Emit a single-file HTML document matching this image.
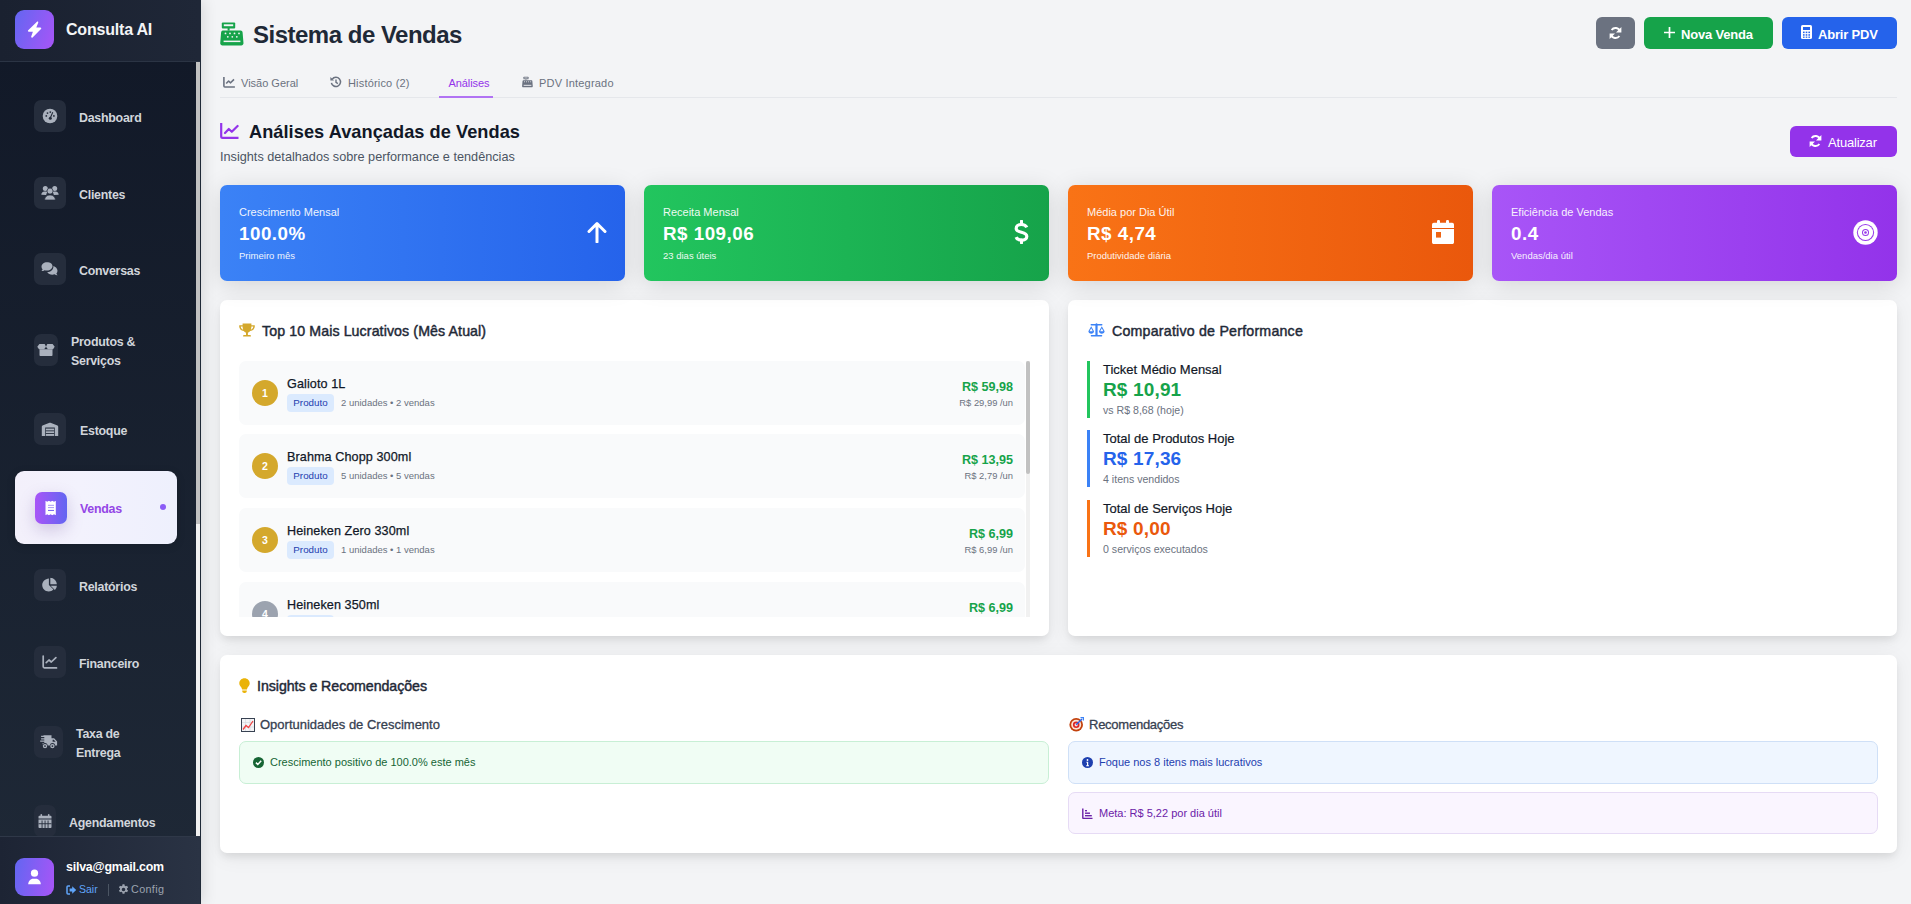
<!DOCTYPE html>
<html lang="pt-BR">
<head>
<meta charset="utf-8">
<title>Sistema de Vendas</title>
<style>
*{box-sizing:border-box;margin:0;padding:0}
html,body{width:1911px;height:904px;overflow:hidden}
body{font-family:"Liberation Sans",sans-serif;background:#f3f4f6;position:relative;color:#1f2937}
.abs{position:absolute}
svg{display:block}
/* sidebar */
#sb{position:absolute;left:0;top:0;width:200px;height:904px;box-shadow:3px 0 14px rgba(0,0,0,.12);background:linear-gradient(180deg,#111827 0%,#1f2937 100%)}
#sbh{position:absolute;left:0;top:0;width:200px;height:62px;background:linear-gradient(90deg,#1a2130,#1f2737);border-bottom:1px solid #2b3444}
#logo{position:absolute;left:15px;top:10px;width:39px;height:39px;border-radius:9px;background:linear-gradient(110deg,#6366f1,#a855f7)}
#brand{position:absolute;left:66px;top:21px;font-size:16px;font-weight:bold;color:#f3f4f6;letter-spacing:-0.2px;white-space:nowrap}
.nav{position:absolute;left:15px;width:162px;height:73px}
.nav .ib{position:absolute;top:20px;height:32px;width:32px;left:19px;border-radius:7px;background:#252d3c}
.nav .ib svg{position:absolute;left:50%;top:50%;transform:translate(-50%,-50%)}
.nav .lb{position:absolute;font-size:12.4px;font-weight:bold;color:#d1d5db;white-space:nowrap;line-height:19px;letter-spacing:-.25px;margin-top:2px}
#sbtrack{position:absolute;left:196px;top:62px;width:4px;height:774px;background:#f1f1f1}
#sbthumb{position:absolute;left:196px;top:62px;width:4px;height:462px;background:#c1c1c1}
#sbline{position:absolute;left:200px;top:0;width:1px;height:904px;background:#1f2937}
#user{position:absolute;left:0;top:836px;width:200px;height:68px;background:linear-gradient(90deg,#1d2434,#2a3344);border-top:1px solid #2f3848}
/* main */
.card{position:absolute;border-radius:7px;background:#fff;box-shadow:0 5px 8px -2px rgba(0,0,0,.1),0 4px 22px rgba(0,0,0,.06)}
.stat{position:absolute;top:185px;width:405px;height:96px;border-radius:7px;color:#fff;box-shadow:0 4px 24px rgba(0,0,0,.13)}
.stat .l1{position:absolute;left:19px;top:21px;font-size:11px;opacity:.92;white-space:nowrap}
.stat .l2{position:absolute;left:19px;top:38px;font-size:18.8px;font-weight:bold;white-space:nowrap}
.stat .l3{position:absolute;left:19px;top:65px;font-size:9.5px;opacity:.92;white-space:nowrap}
.stat svg{position:absolute}
.tab{top:77px;font-size:11px;color:#6b7280;white-space:nowrap;letter-spacing:0}
#main{position:absolute;left:0;top:0}
#act{background:linear-gradient(90deg,#f3f0fb 0%,#f3f2fd 40%,#eef0fd 100%);border-radius:9px;box-shadow:0 2px 8px rgba(0,0,0,.15)}
#act .ib{box-shadow:0 6px 16px rgba(120,90,160,.28)}
.ph{position:absolute;font-size:14.2px;font-weight:normal;color:#1f2937;white-space:nowrap;-webkit-text-stroke:.45px #1f2937;letter-spacing:.1px}
.li{position:absolute;left:239px;width:786px;height:64px;border-radius:7px;background:#f9fafb}
.rk{position:absolute;left:13px;top:19px;width:26px;height:26px;border-radius:50%;background:#d4a82c;color:#fff;font-size:10.5px;font-weight:bold;text-align:center;line-height:26px}
.nm{position:absolute;left:48px;top:16px;font-size:12.6px;color:#111827;-webkit-text-stroke:.25px #111827;letter-spacing:.1px;white-space:nowrap}
.bd{position:absolute;left:48px;top:33px;width:47px;height:18px;border-radius:4px;background:#dbeafe;color:#1e40af;font-size:9.8px;line-height:18px;text-align:center}
.mt{position:absolute;left:102px;top:36px;font-size:9.5px;color:#6b7280;white-space:nowrap}
.pr{position:absolute;right:12px;top:19px;font-size:12.6px;font-weight:bold;color:#16a34a;white-space:nowrap;text-align:right}
.up{position:absolute;right:12px;top:36px;font-size:9.4px;color:#6b7280;white-space:nowrap;text-align:right}
.cmp{position:absolute;left:1087px;width:300px;height:57px;border-left:3px solid}
.cmp .a{position:absolute;left:13px;top:1px;font-size:13px;color:#111827;-webkit-text-stroke:.2px #111827;white-space:nowrap}
.cmp .b{position:absolute;left:13px;top:18px;font-size:19px;font-weight:bold;white-space:nowrap;letter-spacing:.15px}
.cmp .c{position:absolute;left:13px;top:43px;font-size:10.6px;color:#6b7280;white-space:nowrap}
.ibox{position:absolute;height:42px;border-radius:7px;border:1px solid}
.ibox svg{position:absolute;left:13px;top:14.5px}
.ibox .t{position:absolute;left:30px;top:14px;font-size:11px;white-space:nowrap}

</style>
</head>
<body>
<!-- SIDEBAR -->
<div id="sb">
  <div id="sbh">
    <div id="logo"><svg class="abs" style="left:12px;top:11px" width="15" height="17" viewBox="0 0 15 17"><path d="M10.2.6 1.2 9.2c-.6.6-.2 1.5.6 1.5h4.1L4.2 15.5c-.3.9.7 1.5 1.4.9l8.4-8.3c.6-.6.2-1.5-.6-1.5H9.3l1.9-4.9c.3-.9-.4-1.6-1-1.1z" fill="#fff"/></svg></div>
    <div id="brand">Consulta AI</div>
  </div>
</div>
<div class="nav" style="top:80px"><div class="ib" style="width:32px"><svg width="16" height="16" viewBox="0 0 16 16"><circle cx="8" cy="8" r="7.3" fill="#aab1bd"/><circle cx="4.3" cy="7.9" r=".9" fill="#252d3c"/><circle cx="5.5" cy="5.1" r=".9" fill="#252d3c"/><circle cx="8.3" cy="4.1" r=".9" fill="#252d3c"/><circle cx="11.9" cy="7.9" r=".9" fill="#252d3c"/><path d="M10.6 4.6 8.6 9.3" stroke="#252d3c" stroke-width="1.1" stroke-linecap="round"/><circle cx="8.3" cy="10.3" r="1.5" fill="#252d3c"/></svg></div><div class="lb" style="left:64px;top:27px">Dashboard</div></div>
<div class="nav" style="top:157px"><div class="ib" style="width:32px"><svg width="18" height="15" viewBox="0 0 18 15"><circle cx="4.3" cy="3" r="2.5" fill="#aab1bd"/><circle cx="13.7" cy="3" r="2.5" fill="#aab1bd"/><path d="M0.3 9.3c0-2 1.3-3.4 3.3-3.4h1.8c.7 0 1.2.2 1.6.4-1.1.8-1.7 1.9-1.8 3.3z" fill="#aab1bd"/><path d="M17.7 9.3c0-2-1.3-3.4-3.3-3.4h-1.8c-.7 0-1.2.2-1.6.4 1.1.8 1.7 1.9 1.8 3.3z" fill="#aab1bd"/><circle cx="9" cy="5.6" r="3" fill="#aab1bd" stroke="#252d3c" stroke-width=".7"/><path d="M3.6 14.5C3.6 11.6 5.7 9.5 9 9.5s5.4 2.1 5.4 5z" fill="#aab1bd" stroke="#252d3c" stroke-width=".7"/></svg></div><div class="lb" style="left:64px;top:27px">Clientes</div></div>
<div class="nav" style="top:233px"><div class="ib" style="width:32px"><svg width="18" height="15" viewBox="0 0 18 15"><path d="M6 0.8C2.9 0.8 0.5 2.8 0.5 5.2c0 1 .4 1.9 1.1 2.6-.2.8-.7 1.4-1.2 1.8 1.1.1 2.3-.3 3.1-.9.8.3 1.6.4 2.5.4 3.1 0 5.5-2 5.5-4.5S9.1 0.8 6 0.8z" fill="#aab1bd"/><path d="M12.3 4.5c.1.3.1.5.1.8 0 3-2.8 5.2-6.2 5.4 1 1.5 2.9 2.5 5.1 2.5.8 0 1.6-.1 2.3-.4.8.6 1.9 1 3 .9-.5-.4-1-1-1.2-1.8.7-.7 1.1-1.6 1.1-2.6 0-2.3-1.9-4.2-4.2-4.8z" fill="#aab1bd"/></svg></div><div class="lb" style="left:64px;top:27px">Conversas</div></div>
<div class="nav" style="top:314px"><div class="ib" style="width:24px"><svg width="18" height="14" viewBox="0 0 18 14"><path d="M2.5 6.2h13V12c0 .6-.5 1.1-1.1 1.1H3.6c-.6 0-1.1-.5-1.1-1.1z" fill="#aab1bd"/><path d="M0.3 3.8 2.4 0.9h5.3L9 3.8 7.1 6.3H2z" fill="#aab1bd"/><path d="M17.7 3.8 15.6 0.9h-5.3L9 3.8l1.9 2.5H16z" fill="#aab1bd"/></svg></div><div class="lb" style="left:56px;top:17px">Produtos &amp;<br>Serviços</div></div>
<div class="nav" style="top:393px"><div class="ib" style="width:32px"><svg width="18" height="15" viewBox="0 0 18 15"><path d="M0.8 14.4V5.2c0-.5.3-.9.7-1.1L8.5 1.2c.3-.1.7-.1 1 0l7 2.9c.4.2.7.6.7 1.1v9.2h-3.4V6.1H4.2v8.3z" fill="#aab1bd"/><rect x="4.9" y="7.1" width="8.2" height="1.8" fill="#aab1bd"/><rect x="4.9" y="9.8" width="8.2" height="1.8" fill="#aab1bd"/><rect x="4.9" y="12.5" width="8.2" height="1.9" fill="#aab1bd"/></svg></div><div class="lb" style="left:65px;top:27px">Estoque</div></div>
<div class="nav" style="top:785px"><div class="ib" style="width:22px"><svg width="14" height="14" viewBox="0 0 14 14"><rect x="2.5" y="0" width="1.6" height="3" rx=".8" fill="#aab1bd"/><rect x="9.9" y="0" width="1.6" height="3" rx=".8" fill="#aab1bd"/><path d="M0.5 2.8c0-.6.5-1.1 1.1-1.1h10.8c.6 0 1.1.5 1.1 1.1v1.8H0.5z" fill="#aab1bd"/><path d="M0.5 5.4h13v7.5c0 .6-.5 1.1-1.1 1.1H1.6c-.6 0-1.1-.5-1.1-1.1z" fill="#aab1bd"/><g fill="#252d3c"><rect x="3.6" y="6.5" width=".9" height="7.5"/><rect x="6.6" y="6.5" width=".9" height="7.5"/><rect x="9.6" y="6.5" width=".9" height="7.5"/><rect x=".5" y="9.3" width="13" height=".9"/></g></svg></div><div class="lb" style="left:54px;top:27px">Agendamentos</div></div>
<div class="nav" style="top:549px"><div class="ib" style="width:32px"><svg width="16" height="15" viewBox="0 0 16 15"><path d="M6.9 0.9V7.5l4.6 4.6C10.3 13.3 8.6 14 6.7 14 3.1 14 .2 11.1.2 7.5.2 4.1 3.2 1.1 6.9.9z" fill="#aab1bd"/><path d="M8.3.3c3.5.2 6.3 3 6.5 6.5H8.3z" fill="#aab1bd"/><path d="M8.6 8.2h6.2c-.1 1.6-.8 3.1-1.9 4.2z" fill="#aab1bd"/></svg></div><div class="lb" style="left:64px;top:27px">Relatórios</div></div>
<div class="nav" style="top:626px"><div class="ib" style="width:32px"><svg width="16" height="14" viewBox="0 0 16 14"><path d="M1.2 1v10.6c0 .7.5 1.3 1.2 1.3H14.5" stroke="#aab1bd" stroke-width="1.7" fill="none" stroke-linecap="round"/><path d="M4.2 7.6 7 5l2.3 2 4.6-4.4" stroke="#aab1bd" stroke-width="1.7" fill="none" stroke-linecap="round" stroke-linejoin="round"/></svg></div><div class="lb" style="left:64px;top:27px">Financeiro</div></div>
<div class="nav" style="top:706px"><div class="ib" style="width:29px"><svg width="18" height="15" viewBox="0 0 18 15"><path d="M3.5 0.8h8v3h2.6l3 3.3v3.9h-2a2.6 2.6 0 0 0-5.2 0H7.6a2.6 2.6 0 0 0-5.2 0H2.6V8.5h1.7V7.3H0.2V6.1h4.1V4.9H1.1V3.7h3.2V2.5H1.1V1.3h2.4z" fill="#aab1bd"/><path d="M12.6 5.3h1.2l1.8 2h-3z" fill="#252d3c"/><circle cx="5" cy="11.6" r="2.2" fill="#aab1bd"/><circle cx="12.4" cy="11.6" r="2.2" fill="#aab1bd"/><circle cx="5" cy="11.6" r=".9" fill="#252d3c"/><circle cx="12.4" cy="11.6" r=".9" fill="#252d3c"/></svg></div><div class="lb" style="left:61px;top:17px">Taxa de<br>Entrega</div></div>
<div class="nav" id="act" style="top:471px"><div class="ib" style="left:20px;top:21px;background:linear-gradient(90deg,#a855f7,#6366f1)"><svg width="12" height="15" viewBox="0 0 12 15"><path d="M0.5 0.3 2.2 1.3 3.9.3 5.6 1.3 7.3.3 9 1.3 10.8.3V14.7L9 13.7 7.3 14.7 5.6 13.7 3.9 14.7 2.2 13.7.5 14.7z" fill="#fff"/><rect x="3" y="4.3" width="6" height="1" fill="#a99af5"/><rect x="3" y="6.6" width="6" height="1" fill="#a99af5"/><rect x="3" y="9.4" width="6" height="1.1" fill="#7c6cf0"/></svg></div><div class="lb" style="left:65px;top:27px;color:#9446e6">Vendas</div><div class="abs" style="left:145px;top:33px;width:6px;height:6px;border-radius:3px;background:#8b5cf6"></div></div>
<div id="user">
<div class="abs" style="left:15px;top:21px;width:39px;height:38px;border-radius:9px;background:linear-gradient(100deg,#6366f1,#a855f7)"><svg class="abs" style="left:12px;top:11px" width="15" height="16" viewBox="0 0 15 16"><circle cx="7.5" cy="4.2" r="3.6" fill="#fff"/><path d="M1.2 15.2c0-3 2.2-5.5 5-5.5h2.6c2.8 0 5 2.5 5 5.5z" fill="#fff"/></svg></div>
<div class="abs" style="left:66px;top:23px;font-size:12.4px;font-weight:bold;color:#fff;white-space:nowrap;letter-spacing:-.2px">silva@gmail.com</div>
<svg class="abs" style="left:66px;top:48px" width="11" height="10" viewBox="0 0 11 10"><path d="M4 1H2C1.4 1 1 1.4 1 2v6c0 .6.4 1 1 1h2" stroke="#60a5fa" stroke-width="1.5" fill="none"/><path d="M6.2 1.3 10.2 5 6.2 8.7V6.4H3.6V3.6h2.6z" fill="#60a5fa"/></svg>
<div class="abs" style="left:79px;top:46px;font-size:10.5px;color:#60a5fa;white-space:nowrap">Sair</div>
<div class="abs" style="left:108px;top:47px;width:1px;height:12px;background:#4b5563"></div>
<svg class="abs" style="left:118px;top:47px" width="11" height="11" viewBox="0 0 16 16"><path d="M9.4 0.5 9.8 2.6c.5.2 1 .4 1.4.8l2-.7 1.4 2.4-1.6 1.4c.1.5.1 1.1 0 1.6l1.6 1.4-1.4 2.4-2-.7c-.4.4-.9.6-1.4.8l-.4 2.1H6.6l-.4-2.1c-.5-.2-1-.4-1.4-.8l-2 .7L1.4 9.5 3 8.1c-.1-.5-.1-1.1 0-1.6L1.4 5.1 2.8 2.7l2 .7c.4-.4.9-.6 1.4-.8L6.6.5zM8 5.4A2.6 2.6 0 1 0 8 10.6 2.6 2.6 0 1 0 8 5.4z" fill="#9ca3af"/></svg>
<div class="abs" style="left:131px;top:46px;font-size:10.8px;color:#9ca3af;white-space:nowrap;letter-spacing:.35px">Config</div>
</div>
<div id="sbtrack"></div><div id="sbthumb"></div><div id="sbline"></div>

<!-- MAIN -->
<!-- header -->
<div id="main">
<svg class="abs" style="left:220px;top:22px" width="24" height="24" viewBox="0 0 24 24"><rect x="1.8" y="0.4" width="13.4" height="6" rx="1" fill="#16a34a"/><rect x="3.8" y="2.3" width="9.4" height="1.9" fill="#f3f4f6"/><rect x="7.6" y="6" width="2" height="2.6" fill="#16a34a"/><path d="M2.6 8.4h18c1.1 0 2 .9 2 2l.9 10.8c0 1.2-1 2.2-2.2 2.2H2.4c-1.2 0-2.2-1-2.2-2.2l.9-10.8c.1-1.1 1-2 1.5-2z" fill="#16a34a"/><g fill="#f3f4f6"><circle cx="5.5" cy="11.4" r=".9"/><circle cx="10" cy="11.4" r=".9"/><circle cx="14.5" cy="11.4" r=".9"/><circle cx="19" cy="11.4" r=".9"/><circle cx="7.8" cy="14.8" r=".9"/><circle cx="12.3" cy="14.8" r=".9"/><circle cx="16.8" cy="14.8" r=".9"/><rect x="3.6" y="18.6" width="16.8" height="1.5"/></g></svg>
<div class="abs" style="left:253px;top:21px;font-size:24px;font-weight:bold;color:#1f2937;letter-spacing:-.5px;white-space:nowrap">Sistema de Vendas</div>

<div class="abs btn" style="left:1596px;top:17px;width:39px;height:32px;border-radius:6px;background:#6b7280"><svg class="abs" style="left:13px;top:9px" width="13" height="14" viewBox="0 0 13 14"><path d="M11 5.2A4.8 4.8 0 0 0 2.6 4" stroke="#fff" stroke-width="2" fill="none"/><path d="M12.4 1v5.4H7z" fill="#fff"/><path d="M2 8.8A4.8 4.8 0 0 0 10.4 10" stroke="#fff" stroke-width="2" fill="none"/><path d="M.6 13V7.6H6z" fill="#fff"/></svg></div>
<div class="abs btn" style="left:1644px;top:17px;width:129px;height:32px;border-radius:6px;background:#16a34a"><svg class="abs" style="left:20px;top:10px" width="11" height="11" viewBox="0 0 11 11"><path d="M5.5 0v11M0 5.5h11" stroke="#fff" stroke-width="1.7"/></svg><div class="abs" style="left:37px;top:10px;font-size:13px;font-weight:bold;color:#fff;letter-spacing:-.2px;white-space:nowrap">Nova Venda</div></div>
<div class="abs btn" style="left:1782px;top:17px;width:115px;height:32px;border-radius:6px;background:#2563eb"><svg class="abs" style="left:19px;top:8px" width="11" height="14" viewBox="0 0 11 14"><rect x="0" y="0" width="11" height="14" rx="1.6" fill="#fff"/><rect x="2" y="2" width="7" height="3" fill="#2563eb"/><g fill="#2563eb"><rect x="2" y="6.6" width="1.6" height="1.5"/><rect x="4.7" y="6.6" width="1.6" height="1.5"/><rect x="7.4" y="6.6" width="1.6" height="1.5"/><rect x="2" y="9.2" width="1.6" height="1.5"/><rect x="4.7" y="9.2" width="1.6" height="1.5"/><rect x="7.4" y="9.2" width="1.6" height="1.5"/><rect x="2" y="11.6" width="1.6" height="1.2"/><rect x="4.7" y="11.6" width="1.6" height="1.2"/><rect x="7.4" y="11.6" width="1.6" height="1.2"/></g></svg><div class="abs" style="left:36px;top:10px;font-size:13px;font-weight:bold;color:#fff;letter-spacing:-.2px;white-space:nowrap">Abrir PDV</div></div>

<!-- tabs -->
<div class="abs" style="left:220px;top:97px;width:1677px;height:1px;background:#e5e7eb"></div>
<svg class="abs" style="left:223px;top:77px" width="12" height="11" viewBox="0 0 12 11"><path d="M.9 0v9c0 .6.4 1 1 1h10" stroke="#6b7280" stroke-width="1.6" fill="none"/><path d="M3.2 6.5 5.6 4l2 1.8L11 2.4" stroke="#6b7280" stroke-width="1.6" fill="none" stroke-linejoin="round"/></svg>
<div class="abs tab" style="left:241px;letter-spacing:0">Visão Geral</div>
<svg class="abs" style="left:330px;top:76px" width="12" height="12" viewBox="0 0 12 12"><path d="M2.2 3.2A4.6 4.6 0 1 1 1.4 6.8" stroke="#6b7280" stroke-width="1.5" fill="none"/><path d="M.4 1v3.6H4z" fill="#6b7280"/><path d="M6 3.4V6.3l1.9 1.3" stroke="#6b7280" stroke-width="1.4" fill="none"/></svg>
<div class="abs tab" style="left:348px;letter-spacing:.18px">Histórico (2)</div>
<div class="abs tab" style="left:448.5px;color:#9333ea;letter-spacing:-.07px">Análises</div>
<div class="abs" style="left:439px;top:96px;width:54px;height:2px;background:#b173f3"></div>
<svg class="abs" style="left:522px;top:76px" width="11" height="12" viewBox="0 0 24 24"><rect x="3.2" y="0.6" width="11" height="5.6" rx="1" fill="#6b7280"/><rect x="5" y="2.4" width="7.4" height="1.6" fill="#f3f4f6"/><rect x="7.6" y="6" width="2" height="2.6" fill="#6b7280"/><path d="M2.6 8.4h18c1.1 0 2 .9 2 2l.9 10.8c0 1.2-1 2.2-2.2 2.2H2.4c-1.2 0-2.2-1-2.2-2.2l.9-10.8c.1-1.1 1-2 1.5-2z" fill="#6b7280"/><g fill="#f3f4f6"><circle cx="5.5" cy="11.4" r="1.1"/><circle cx="10" cy="11.4" r="1.1"/><circle cx="14.5" cy="11.4" r="1.1"/><circle cx="19" cy="11.4" r="1.1"/><rect x="3.6" y="18.2" width="16.8" height="2"/></g></svg>
<div class="abs tab" style="left:539px;letter-spacing:.2px">PDV Integrado</div>

<!-- section header -->
<svg class="abs" style="left:220px;top:123px" width="19" height="16" viewBox="0 0 19 16"><path d="M1.2 0v13.4c0 .8.6 1.4 1.4 1.4H18.5" stroke="#9333ea" stroke-width="2.2" fill="none"/><path d="M5 10 8.8 6l3 2.8L17.6 3" stroke="#9333ea" stroke-width="2.2" fill="none" stroke-linejoin="round" stroke-linecap="round"/></svg>
<div class="abs" style="left:249px;top:122px;font-size:18.2px;letter-spacing:.05px;font-weight:bold;color:#111827;white-space:nowrap">Análises Avançadas de Vendas</div>
<div class="abs" style="left:220px;top:150px;font-size:12.7px;color:#4b5563;white-space:nowrap">Insights detalhados sobre performance e tendências</div>
<div class="abs btn" style="left:1790px;top:126px;width:107px;height:31px;border-radius:6px;background:#9333ea"><svg class="abs" style="left:19px;top:8px" width="13" height="14" viewBox="0 0 13 14"><path d="M11 5.2A4.8 4.8 0 0 0 2.6 4" stroke="#fff" stroke-width="2" fill="none"/><path d="M12.4 1v5.4H7z" fill="#fff"/><path d="M2 8.8A4.8 4.8 0 0 0 10.4 10" stroke="#fff" stroke-width="2" fill="none"/><path d="M.6 13V7.6H6z" fill="#fff"/></svg><div class="abs" style="left:38px;top:9px;font-size:13px;color:#fff;letter-spacing:-.2px;white-space:nowrap">Atualizar</div></div>


<!-- top10 panel -->
<div class="card" style="left:220px;top:300px;width:829px;height:336px"></div>
<svg class="abs" style="left:239px;top:323px" width="16" height="14" viewBox="0 0 16 14"><path d="M3.6 0.6h8.8v1.6h3c.3 0 .5.2.5.5 0 3-2 5.1-4.7 5.4-.6.9-1.4 1.5-2.3 1.7v2.3h2.3c.4 0 .7.3.7.7v.8H4.1v-.8c0-.4.3-.7.7-.7H7V9.8C6.1 9.6 5.3 9 4.7 8.1 2 7.8.1 5.7.1 2.7c0-.3.2-.5.5-.5h3zM1.7 3.6c.2 1.7 1.2 2.8 2.5 3.1-.4-.9-.6-2-.6-3.1zM14.3 3.6h-1.9c0 1.1-.2 2.2-.6 3.1 1.3-.3 2.3-1.4 2.5-3.1z" fill="#d4a82c"/></svg>
<div class="ph" style="left:262px;top:323px">Top 10 Mais Lucrativos (Mês Atual)</div>
<div class="abs" style="left:239px;top:361px;width:791px;height:256px;overflow:hidden">
<div class="abs" style="left:0;top:0"><div class="li" style="left:0;top:0px"><div class="rk" style="background:#d4a82c">1</div><div class="nm">Galioto 1L</div><div class="bd">Produto</div><div class="mt">2 unidades • 2 vendas</div><div class="pr">R$ 59,98</div><div class="up">R$ 29,99 /un</div></div><div class="li" style="left:0;top:73px"><div class="rk" style="background:#d4a82c">2</div><div class="nm">Brahma Chopp 300ml</div><div class="bd">Produto</div><div class="mt">5 unidades • 5 vendas</div><div class="pr">R$ 13,95</div><div class="up">R$ 2,79 /un</div></div><div class="li" style="left:0;top:147px"><div class="rk" style="background:#d4a82c">3</div><div class="nm">Heineken Zero 330ml</div><div class="bd">Produto</div><div class="mt">1 unidades • 1 vendas</div><div class="pr">R$ 6,99</div><div class="up">R$ 6,99 /un</div></div><div class="li" style="left:0;top:221px"><div class="rk" style="background:#9ca3af">4</div><div class="nm">Heineken 350ml</div><div class="bd">Produto</div><div class="mt">1 unidades • 1 vendas</div><div class="pr">R$ 6,99</div><div class="up">R$ 6,99 /un</div></div></div>
<div class="abs" style="left:787px;top:0;width:4px;height:256px;background:#f1f1f1"></div>
<div class="abs" style="left:787px;top:0;width:4px;height:113px;border-radius:2px;background:#c1c1c1"></div>
</div>

<!-- comparativo panel -->
<div class="card" style="left:1068px;top:300px;width:829px;height:336px"></div>
<svg class="abs" style="left:1088px;top:323px" width="17" height="14" viewBox="0 0 17 14"><path d="M8.5 0.3c.5 0 .9.3 1 .8h4.3c.4 0 .7.3.7.7s-.3.7-.7.7H9.6v9.6h4c.4 0 .7.3.7.7s-.3.7-.7.7H3.4c-.4 0-.7-.3-.7-.7s.3-.7.7-.7h4V2.5H3.2c-.4 0-.7-.3-.7-.7s.3-.7.7-.7h4.3c.1-.5.5-.8 1-.8z" fill="#3b82f6"/><path d="M3.2 3.2.4 8.2c0 1.6 1.3 2.5 2.8 2.5S6 9.8 6 8.2zM1.6 8.2 3.2 5.3 4.8 8.2zM13.8 3.2 11 8.2c0 1.6 1.3 2.5 2.8 2.5s2.8-.9 2.8-2.5zM12.2 8.2l1.6-2.9 1.6 2.9z" fill="#3b82f6"/></svg>
<div class="ph" style="left:1112px;top:323px;letter-spacing:.22px">Comparativo de Performance</div>
<div class="cmp" style="top:361px;border-color:#22c55e"><div class="a">Ticket Médio Mensal</div><div class="b" style="color:#16a34a">R$ 10,91</div><div class="c">vs R$ 8,68 (hoje)</div></div>
<div class="cmp" style="top:430px;border-color:#3b82f6"><div class="a">Total de Produtos Hoje</div><div class="b" style="color:#2563eb">R$ 17,36</div><div class="c">4 itens vendidos</div></div>
<div class="cmp" style="top:500px;border-color:#f97316"><div class="a">Total de Serviços Hoje</div><div class="b" style="color:#ea580c">R$ 0,00</div><div class="c">0 serviços executados</div></div>

<!-- insights panel -->
<div class="card" style="left:220px;top:655px;width:1677px;height:198px"></div>
<svg class="abs" style="left:239px;top:678px" width="11" height="15" viewBox="0 0 11 15"><path d="M5.5 0.2C2.6.2.3 2.4.3 5.2c0 1.3.5 2.4 1.3 3.3.7.8 1.3 1.8 1.5 2.9h4.8c.2-1.1.8-2.1 1.5-2.9.8-.9 1.3-2 1.3-3.3C10.7 2.4 8.4.2 5.5.2z" fill="#eab308"/><path d="M3.2 12.4h4.6v.5c0 1.1-.9 2-2 2H5.2c-1.1 0-2-.9-2-2z" fill="#eab308"/></svg>
<div class="ph" style="left:257px;top:678px;letter-spacing:-.05px">Insights e Recomendações</div>
<svg class="abs" style="left:241px;top:718px" width="14" height="14" viewBox="0 0 14 14"><rect x=".5" y=".5" width="13" height="13" fill="#f3f4f6" stroke="#374151" stroke-width="1"/><path d="M1 4.5h12M1 9h12M4.5 1v12M9 1v12" stroke="#d1d5db" stroke-width=".6"/><path d="M2 11.5 5 7.5 7.5 9.5 12 3" stroke="#ef4444" stroke-width="1.3" fill="none"/></svg>
<div class="abs" style="left:260px;top:717px;font-size:13px;color:#374151;white-space:nowrap;-webkit-text-stroke:.3px #374151">Oportunidades de Crescimento</div>
<div class="ibox" style="left:239px;top:741px;height:43px;width:810px;background:#f0fdf4;border-color:#c8efd5"><svg width="11" height="11" viewBox="0 0 11 11"><circle cx="5.5" cy="5.5" r="5.5" fill="#166534"/><path d="M2.9 5.6 4.8 7.4 8.2 3.8" stroke="#fff" stroke-width="1.5" fill="none"/></svg><div class="t" style="color:#166534">Crescimento positivo de 100.0% este mês</div></div>

<svg class="abs" style="left:1069px;top:717px" width="15" height="15" viewBox="0 0 15 15"><circle cx="7.2" cy="7.8" r="6.8" fill="#c2410c"/><circle cx="7.2" cy="7.8" r="5" fill="#fde3d3"/><circle cx="7.2" cy="7.8" r="3.3" fill="#dc2626"/><circle cx="7.2" cy="7.8" r="1.6" fill="#fde3d3"/><path d="M7.2 7.8 13 2" stroke="#2563eb" stroke-width="1.4"/><path d="M11.5 0.6h3v3" stroke="#3b82f6" stroke-width="1.4" fill="none"/></svg>
<div class="abs" style="left:1089px;top:717px;font-size:13px;color:#374151;white-space:nowrap;letter-spacing:-.25px;-webkit-text-stroke:.3px #374151">Recomendações</div>
<div class="ibox" style="left:1068px;top:741px;height:43px;width:810px;background:#eff6ff;border-color:#cfe0f7"><svg width="11" height="11" viewBox="0 0 11 11"><circle cx="5.5" cy="5.5" r="5.5" fill="#1e40af"/><circle cx="5.5" cy="3" r=".9" fill="#fff"/><path d="M4.4 4.8h1.8v3.4h.8v1H4.2v-1H5V5.8h-.6z" fill="#fff"/></svg><div class="t" style="color:#1e40af">Foque nos 8 itens mais lucrativos</div></div>
<div class="ibox" style="left:1068px;top:792px;width:810px;background:#faf5ff;border-color:#e6dbf5"><svg width="11" height="11" viewBox="0 0 11 11"><path d="M.8.5v9.2c0 .4.3.8.8.8H10.5" stroke="#6b21a8" stroke-width="1.4" fill="none"/><rect x="3" y="2" width="2" height="1.4" fill="#6b21a8"/><rect x="3" y="4.5" width="5" height="1.4" fill="#6b21a8"/><rect x="3" y="7" width="6.8" height="1.4" fill="#6b21a8"/></svg><div class="t" style="color:#6b21a8">Meta: R$ 5,22 por dia útil</div></div>

<!-- stat cards -->
<div class="stat" style="left:220px;background:linear-gradient(90deg,#3b82f6,#2563eb)">
 <div class="l1">Crescimento Mensal</div><div class="l2" style="letter-spacing:.5px">100.0%</div><div class="l3">Primeiro mês</div>
 <svg style="left:367px;top:36px" width="20" height="22" viewBox="0 0 20 22"><path d="M10 21V3M2 10.5 10 2.5l8 8" stroke="#fff" stroke-width="3" fill="none" stroke-linecap="round" stroke-linejoin="round"/></svg>
</div>
<div class="stat" style="left:644px;background:linear-gradient(90deg,#22c55e,#16a34a)">
 <div class="l1">Receita Mensal</div><div class="l2" style="letter-spacing:.5px">R$ 109,06</div><div class="l3">23 dias úteis</div>
 <svg style="left:370px;top:35px" width="15" height="24" viewBox="0 0 15 24"><path d="M7.5 1v3.2M7.5 20v3" stroke="#fff" stroke-width="3" stroke-linecap="round"/><path d="M12.8 7.4C12 5.6 10 4.5 7.4 4.5 4.3 4.5 2.2 6.1 2.2 8.4c0 5.1 10.6 2.7 10.6 8 0 2.2-2.2 3.7-5.2 3.7-2.7 0-4.8-1.1-5.5-3" stroke="#fff" stroke-width="3.2" fill="none" stroke-linecap="butt"/></svg>
</div>
<div class="stat" style="left:1068px;background:linear-gradient(90deg,#f97316,#ea580c)">
 <div class="l1">Média por Dia Útil</div><div class="l2" style="letter-spacing:.5px">R$ 4,74</div><div class="l3">Produtividade diária</div>
 <svg style="left:364px;top:35px" width="22" height="24" viewBox="0 0 22 24"><rect x="5" y="0" width="3" height="4" rx="1.2" fill="#fff"/><rect x="14" y="0" width="3" height="4" rx="1.2" fill="#fff"/><path d="M0 4.6c0-1 .8-1.9 1.8-1.9h18.4c1 0 1.8.9 1.8 1.9V8H0z" fill="#fff"/><path d="M0 9h22v13.2c0 1-.8 1.8-1.8 1.8H1.8C.8 24 0 23.2 0 22.2z" fill="#fff"/><rect x="4" y="12" width="5" height="5.6" fill="#ee6413"/></svg>
</div>
<div class="stat" style="left:1492px;background:linear-gradient(90deg,#a855f7,#9333ea)">
 <div class="l1">Eficiência de Vendas</div><div class="l2" style="letter-spacing:.5px">0.4</div><div class="l3">Vendas/dia útil</div>
 <svg style="left:361px;top:35px" width="25" height="25" viewBox="0 0 25 25"><circle cx="12.5" cy="12.5" r="12.2" fill="#fff"/><circle cx="12.5" cy="12.5" r="8.6" fill="#9638ea"/><circle cx="12.5" cy="12.5" r="7.6" fill="#fff"/><circle cx="12.5" cy="12.5" r="3.5" fill="#9638ea"/><circle cx="12.5" cy="12.5" r="2.5" fill="#fff"/><circle cx="12.5" cy="12.5" r="1.3" fill="#9638ea"/></svg>
</div>
</div>

</body>
</html>
